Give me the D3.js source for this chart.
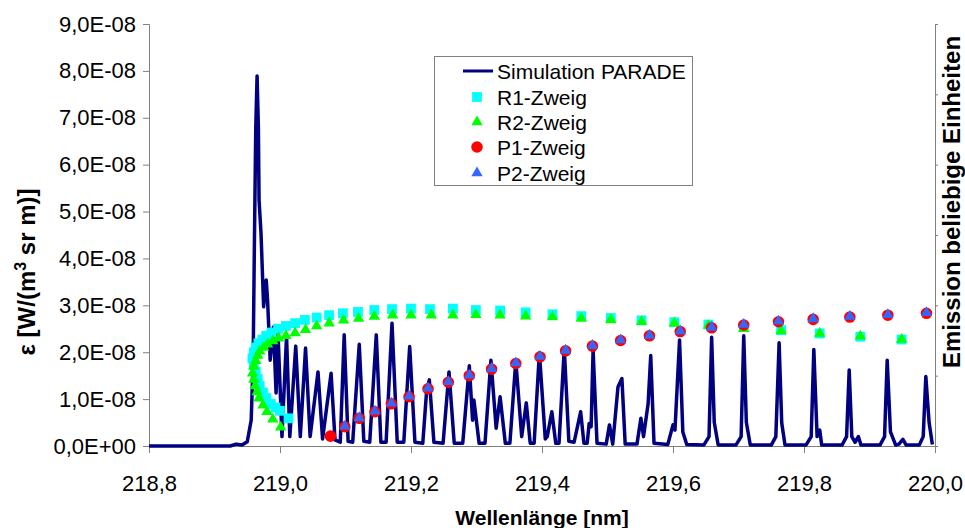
<!DOCTYPE html>
<html><head><meta charset="utf-8">
<script src="https://cdn.jsdelivr.net/npm/d3@7/dist/d3.min.js"></script>
<style>
body{margin:0;background:#fff}
svg{display:block}
text{font-family:"Liberation Sans",Arial,Helvetica,sans-serif;fill:#000}
</style>
</head><body>
<svg id="chart" width="965" height="528"></svg>
<script>
// ---------- data ----------
const xTicks = [218.8, 219.0, 219.2, 219.4, 219.6, 219.8, 220.0];
const yTicks = [0, 1e-8, 2e-8, 3e-8, 4e-8, 5e-8, 6e-8, 7e-8, 8e-8, 9e-8];
const rightTicks = [0, 1, 2, 3, 4, 5, 6];

const simWavelength = [218.800,218.924,218.933,218.942,218.950,218.956,218.959,218.961,218.963,218.965,218.967,218.968,218.971,218.975,218.979,218.981,218.985,218.990,218.994,218.997,219.003,219.010,219.015,219.024,219.031,219.039,219.046,219.058,219.065,219.078,219.084,219.092,219.098,219.104,219.111,219.121,219.128,219.137,219.147,219.154,219.162,219.171,219.179,219.189,219.198,219.206,219.218,219.224,219.228,219.235,219.249,219.258,219.266,219.279,219.289,219.294,219.296,219.304,219.313,219.322,219.330,219.336,219.344,219.351,219.360,219.369,219.376,219.382,219.388,219.396,219.405,219.408,219.415,219.421,219.426,219.434,219.441,219.449,219.459,219.464,219.469,219.472,219.475,219.478,219.484,219.498,219.503,219.508,219.516,219.522,219.527,219.545,219.551,219.555,219.562,219.566,219.571,219.592,219.600,219.603,219.610,219.615,219.621,219.647,219.655,219.659,219.663,219.669,219.696,219.704,219.708,219.712,219.718,219.750,219.757,219.762,219.766,219.771,219.803,219.811,219.815,219.820,219.824,219.827,219.858,219.865,219.869,219.873,219.878,219.883,219.887,219.916,219.923,219.927,219.932,219.940,219.945,219.951,219.956,219.976,219.982,219.986,219.991,219.996];
const simValue = [0,0,0.04e-8,0.02e-8,0.09e-8,0.55e-8,1.83e-8,4.42e-8,6.8e-8,7.89e-8,6.8e-8,5.25e-8,4.54e-8,2.97e-8,3.54e-8,3.11e-8,1.83e-8,2.54e-8,1.13e-8,2.41e-8,0.2e-8,2.34e-8,0.2e-8,2.13e-8,0.2e-8,2.09e-8,0.2e-8,1.58e-8,0.15e-8,1.55e-8,0.13e-8,0.08e-8,2.37e-8,0.1e-8,0.08e-8,2.17e-8,0.1e-8,0.08e-8,2.37e-8,0.08e-8,0.08e-8,2.62e-8,0.08e-8,0.08e-8,2.12e-8,0.08e-8,0.06e-8,1.2e-8,1.41e-8,0.08e-8,0.06e-8,1.58e-8,0.06e-8,0.06e-8,1.71e-8,0.55e-8,0.98e-8,0.06e-8,0.06e-8,1.83e-8,0.38e-8,1.05e-8,0.06e-8,0.06e-8,1.82e-8,0.2e-8,0.92e-8,0.06e-8,0.06e-8,1.99e-8,0.15e-8,0.2e-8,0.73e-8,0.06e-8,0.06e-8,2.08e-8,0.1e-8,0.08e-8,0.73e-8,0.06e-8,0.06e-8,0.48e-8,0.41e-8,2.05e-8,0.06e-8,0.04e-8,0.45e-8,0.04e-8,1.26e-8,1.44e-8,0.04e-8,0.04e-8,0.59e-8,0.2e-8,0.9e-8,1.93e-8,0.06e-8,0.03e-8,0.45e-8,0.34e-8,2.26e-8,0.3e-8,0.03e-8,0.02e-8,0.2e-8,2.32e-8,0.5e-8,0.02e-8,0.02e-8,0.2e-8,2.35e-8,0.5e-8,0.02e-8,0.02e-8,0.2e-8,2.2e-8,0.49e-8,0.02e-8,0.02e-8,0.2e-8,2.06e-8,0.2e-8,0.34e-8,0.02e-8,0.02e-8,0.2e-8,1.62e-8,0.2e-8,0.08e-8,0.2e-8,0.02e-8,0.02e-8,0.2e-8,1.83e-8,0.3e-8,0.02e-8,0.04e-8,0.14e-8,0.02e-8,0.02e-8,0.2e-8,1.48e-8,0.5e-8,0.03e-8];

// R1-Zweig (cyan squares): band head, upper and lower branch
const r1Wavelength = [218.958,218.960,218.963,218.967,218.973,218.979,218.987,218.997,219.009,219.023,219.038,219.056,219.075,219.096,219.119,219.144,219.171,219.200,219.229,219.264,219.299,219.336,219.375,219.416,219.460,219.505,219.552,219.602,219.654,219.708,219.765,219.824,219.886,219.949,
  218.960,218.963,218.966,218.969,218.974,218.979,218.986,218.993,219.000,219.013];
const r1Value = [1.87e-8,2.0e-8,2.1e-8,2.19e-8,2.27e-8,2.35e-8,2.42e-8,2.5e-8,2.56e-8,2.62e-8,2.69e-8,2.74e-8,2.79e-8,2.83e-8,2.86e-8,2.9e-8,2.92e-8,2.93e-8,2.92e-8,2.93e-8,2.9e-8,2.89e-8,2.85e-8,2.81e-8,2.77e-8,2.73e-8,2.68e-8,2.64e-8,2.59e-8,2.54e-8,2.47e-8,2.4e-8,2.33e-8,2.27e-8,
  1.72e-8,1.58e-8,1.43e-8,1.28e-8,1.14e-8,1.02e-8,0.9e-8,0.82e-8,0.75e-8,0.59e-8];

// R2-Zweig (green triangles)
const r2Wavelength = [218.958,218.960,218.963,218.966,218.969,218.975,218.981,218.989,218.998,219.009,219.023,219.039,219.056,219.075,219.097,219.120,219.144,219.172,219.200,219.231,219.264,219.299,219.336,219.375,219.416,219.460,219.505,219.552,219.602,219.654,219.708,219.765,219.824,219.886,219.949,
  218.960,218.962,218.965,218.968,218.974,218.980,218.989,219.001];
const r2Value = [1.55e-8,1.7e-8,1.82e-8,1.93e-8,2.02e-8,2.1e-8,2.17e-8,2.24e-8,2.3e-8,2.35e-8,2.41e-8,2.48e-8,2.56e-8,2.62e-8,2.68e-8,2.72e-8,2.76e-8,2.79e-8,2.79e-8,2.79e-8,2.79e-8,2.8e-8,2.79e-8,2.77e-8,2.75e-8,2.72e-8,2.69e-8,2.65e-8,2.62e-8,2.57e-8,2.5e-8,2.46e-8,2.4e-8,2.34e-8,2.27e-8,
  1.42e-8,1.28e-8,1.15e-8,1.02e-8,0.87e-8,0.73e-8,0.57e-8,0.4e-8];

// P1-Zweig (red circles)
const p1Wavelength = [219.077,219.099,219.121,219.145,219.170,219.197,219.226,219.257,219.289,219.323,219.360,219.397,219.436,219.477,219.520,219.564,219.611,219.659,219.708,219.761,219.814,219.870,219.928,219.987];
const p1Value = [0.21e-8,0.41e-8,0.59e-8,0.73e-8,0.9e-8,1.05e-8,1.22e-8,1.36e-8,1.5e-8,1.64e-8,1.76e-8,1.9e-8,2.03e-8,2.13e-8,2.25e-8,2.35e-8,2.44e-8,2.52e-8,2.58e-8,2.65e-8,2.7e-8,2.75e-8,2.79e-8,2.83e-8];

// P2-Zweig (blue triangles)
const p2Wavelength = [219.099,219.121,219.145,219.170,219.197,219.226,219.257,219.289,219.323,219.360,219.397,219.436,219.477,219.520,219.564,219.611,219.659,219.708,219.761,219.814,219.870,219.928,219.987];
const p2Value = [0.42e-8,0.6e-8,0.74e-8,0.91e-8,1.06e-8,1.23e-8,1.37e-8,1.51e-8,1.65e-8,1.77e-8,1.91e-8,2.04e-8,2.14e-8,2.26e-8,2.36e-8,2.45e-8,2.53e-8,2.59e-8,2.66e-8,2.71e-8,2.76e-8,2.8e-8,2.84e-8];

const legendLabels = ["Simulation PARADE","R1-Zweig","R2-Zweig","P1-Zweig","P2-Zweig"];

// ---------- layout ----------
const svg = d3.select("#chart");
const plot = {left:149, right:935, top:24, bottom:446};
const x = d3.scaleLinear().domain([218.8, 220.0]).range([plot.left, plot.right]);
const y = d3.scaleLinear().domain([0, 9e-8]).range([plot.bottom, plot.top]);
const yR = d3.scaleLinear().domain([0, 6]).range([plot.bottom, plot.top]);
const axisGrey = "#808080";

const fmtY = v => v === 0 ? "0,0E+00" : (v/1e-8).toFixed(1).replace(".", ",") + "E-08";
const fmtX = v => v.toFixed(1).replace(".", ",");

// x axis
const gx = svg.append("g").attr("transform", `translate(0,${plot.bottom})`)
  .call(d3.axisBottom(x).tickValues(xTicks).tickFormat(fmtX).tickSizeOuter(0).tickSize(7).tickPadding(22));
gx.selectAll("text").style("font-size","22px");
// left axis
const gy = svg.append("g").attr("transform", `translate(${plot.left},0)`)
  .call(d3.axisLeft(y).tickValues(yTicks).tickFormat(fmtY).tickSizeOuter(0).tickSize(6).tickPadding(7));
gy.selectAll("text").style("font-size","22px");
// right axis (no labels)
const gr = svg.append("g").attr("transform", `translate(${plot.right},0)`)
  .call(d3.axisRight(yR).tickValues(rightTicks).tickFormat("").tickSizeOuter(0).tickSize(3));
[gx, gy, gr].forEach(g => {
  g.select(".domain").attr("stroke", axisGrey).attr("stroke-width", 1);
  g.selectAll(".tick line").attr("stroke", axisGrey);
});

// simulation line
const simData = simWavelength.map((w,i) => [w, simValue[i]]);
svg.append("path").datum(simData)
  .attr("fill","none").attr("stroke","#000080").attr("stroke-width",3.5)
  .attr("stroke-linejoin","round")
  .attr("d", d3.line().x(d => x(d[0])).y(d => y(d[1])));

function scatter(ws, vs, type, size, color) {
  const sym = d3.symbol().type(type).size(size);
  svg.append("g").selectAll("path").data(ws.map((w,i)=>[w,vs[i]])).join("path")
    .attr("transform", d => `translate(${x(d[0])},${y(d[1])})`)
    .attr("d", sym).attr("fill", color);
}
scatter(r1Wavelength, r1Value, d3.symbolSquare, 96, "#00ffff");
scatter(r2Wavelength, r2Value, d3.symbolTriangle, 56, "#00ff00");
scatter(p1Wavelength, p1Value, d3.symbolCircle, 105, "#ff0000");
scatter(p2Wavelength, p2Value, d3.symbolTriangle, 56, "#3366ff");

// axis titles
svg.append("text").attr("x", 542).attr("y", 525).attr("text-anchor","middle")
  .style("font-size","21px").style("font-weight","bold").text("Wellenlänge [nm]");
const yt = svg.append("text").attr("transform","translate(35,272) rotate(-90)").attr("text-anchor","middle")
  .style("font-size","24px").style("font-weight","bold");
yt.append("tspan").text("ε [W/(m");
yt.append("tspan").attr("dy",-9).style("font-size","16px").text("3");
yt.append("tspan").attr("dy",9).text(" sr m)]");
svg.append("text").attr("transform","translate(960,202) rotate(-90)").attr("text-anchor","middle")
  .style("font-size","24px").style("font-weight","bold").text("Emission beliebige Einheiten");

// legend
const lg = svg.append("g");
lg.append("rect").attr("x",434.5).attr("y",56.5).attr("width",258).attr("height",129)
  .attr("fill","#fff").attr("stroke",axisGrey).attr("stroke-width",1);
const ly = [71, 97, 122, 147, 173];
lg.append("line").attr("x1",463).attr("x2",493).attr("y1",ly[0]).attr("y2",ly[0])
  .attr("stroke","#000080").attr("stroke-width",3);
const legSyms = [null,
  [d3.symbolSquare,96,"#00ffff"],[d3.symbolTriangle,56,"#00ff00"],
  [d3.symbolCircle,105,"#ff0000"],[d3.symbolTriangle,56,"#3366ff"]];
legendLabels.forEach((t,i) => {
  if (legSyms[i]) lg.append("path").attr("transform",`translate(477,${ly[i]})`)
    .attr("d", d3.symbol().type(legSyms[i][0]).size(legSyms[i][1])).attr("fill", legSyms[i][2]);
  lg.append("text").attr("x", 497).attr("y", ly[i]).attr("dy","0.36em")
    .style("font-size","21px").text(t);
});
</script>
</body></html>
